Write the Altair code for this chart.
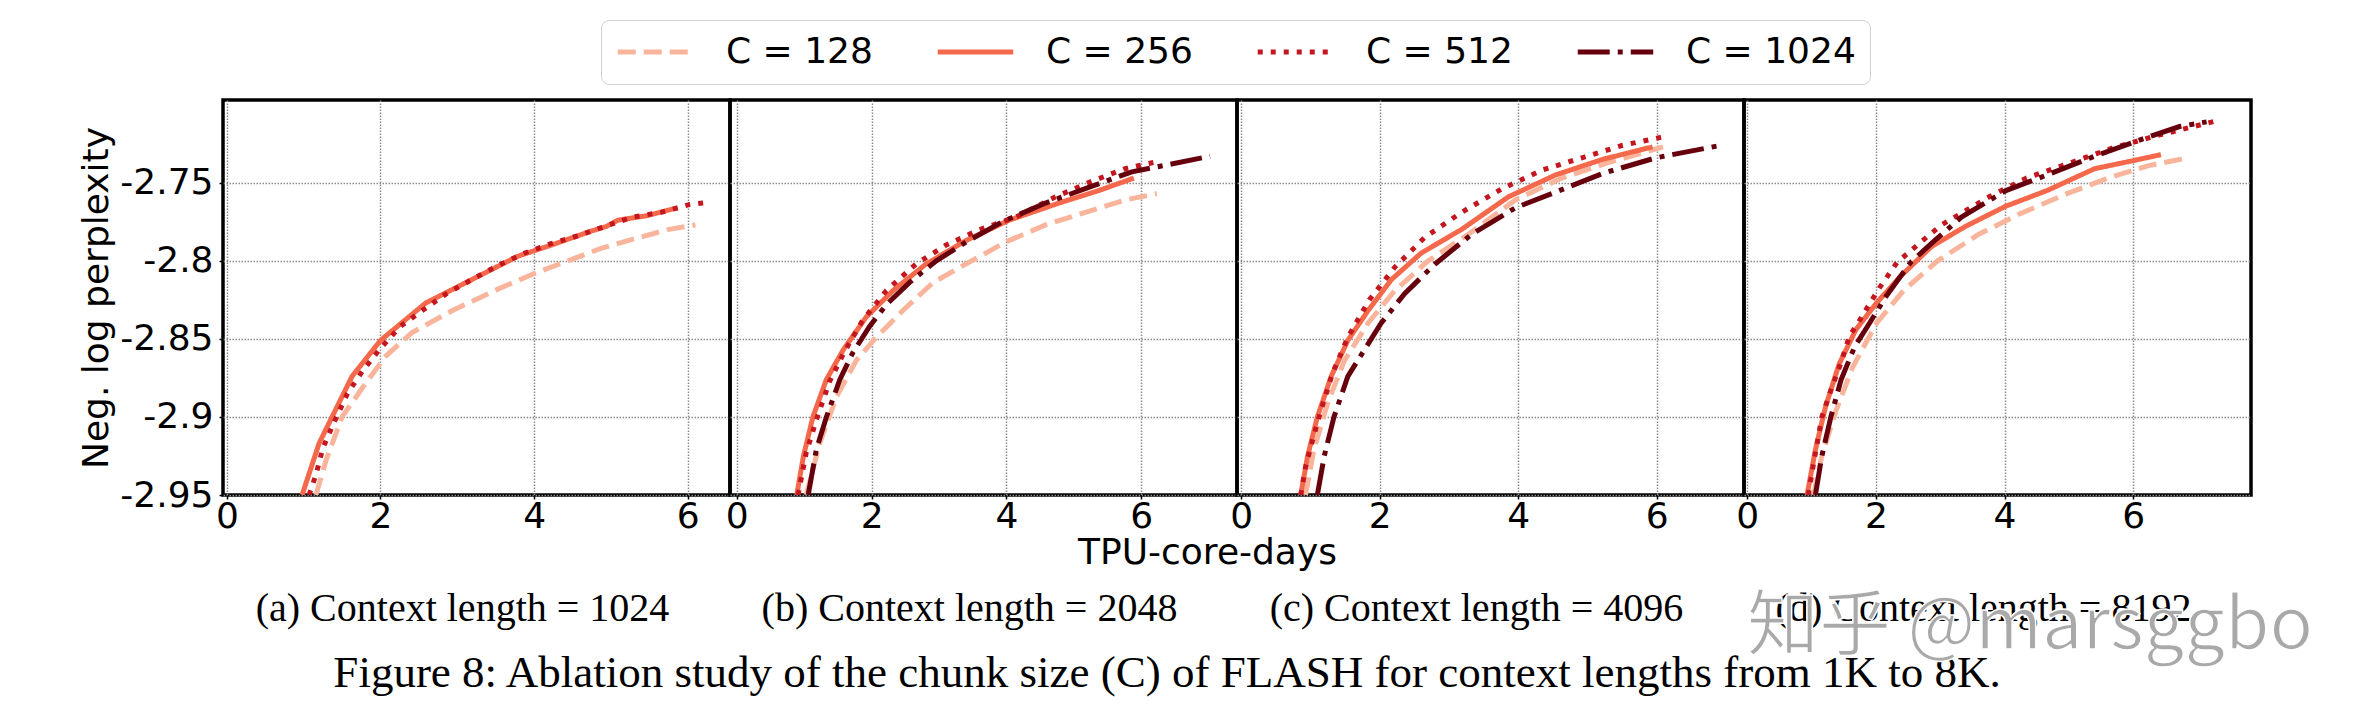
import altair as alt
import pandas as pd

runs = ["C = 128", "C = 256", "C = 512", "C = 1024"]
run_colors = ["#f8b59c", "#f4694b", "#c3161f", "#67000d"]
run_dashes = [[18, 8], [1, 0], [5, 8], [32, 8, 5, 8]]
y_ticks = [-2.95, -2.9, -2.85, -2.8, -2.75]
x_ticks = [0, 2, 4, 6]

# (a) context length 1024
a128_x = [1.16, 1.29, 1.50, 1.77, 2.07, 2.41, 2.93, 3.58, 4.01, 4.44, 4.87, 5.30, 5.74, 6.10]
a128_y = [-2.95, -2.928, -2.900, -2.881, -2.861, -2.846, -2.832, -2.817, -2.808, -2.800, -2.792, -2.786, -2.780, -2.777]
a256_x = [0.98, 1.20, 1.63, 2.00, 2.59, 3.19, 3.79, 4.22, 4.74, 4.94, 5.09, 5.48, 5.87]
a256_y = [-2.95, -2.917, -2.874, -2.851, -2.827, -2.812, -2.797, -2.790, -2.781, -2.778, -2.774, -2.771, -2.766]
a512_x = [1.07, 1.16, 1.25, 1.40, 1.57, 1.76, 2.00, 2.26, 2.54, 2.86, 3.19, 3.53, 3.88, 4.22, 4.57, 4.92, 5.28, 5.65, 6.02, 6.20]
a512_y = [-2.95, -2.937, -2.920, -2.903, -2.885, -2.871, -2.856, -2.842, -2.832, -2.821, -2.812, -2.803, -2.795, -2.789, -2.784, -2.778, -2.772, -2.769, -2.764, -2.763]

# (b) context length 2048
b128_x = [1.03, 1.23, 1.48, 1.77, 2.07, 2.46, 2.91, 3.40, 3.99, 4.58, 5.17, 5.76, 6.23]
b128_y = [-2.95, -2.917, -2.887, -2.864, -2.849, -2.832, -2.814, -2.802, -2.788, -2.777, -2.769, -2.761, -2.757]
b256_x = [0.89, 0.99, 1.13, 1.33, 1.58, 1.92, 2.32, 2.81, 3.40, 4.04, 4.78, 5.37, 5.89]
b256_y = [-2.95, -2.925, -2.900, -2.876, -2.857, -2.836, -2.819, -2.802, -2.787, -2.774, -2.763, -2.755, -2.747]
b512_x = [0.91, 1.03, 1.18, 1.38, 1.60, 1.87, 2.22, 2.66, 3.10, 3.60, 4.14, 4.73, 5.27, 5.76, 6.18]
b512_y = [-2.95, -2.923, -2.902, -2.877, -2.858, -2.838, -2.819, -2.802, -2.790, -2.780, -2.772, -2.759, -2.749, -2.741, -2.737]
b1024_x = [1.06, 1.18, 1.33, 1.53, 1.72, 1.97, 2.22, 2.56, 2.96, 3.40, 3.94, 4.58, 5.22, 5.86, 6.45, 7.02]
b1024_y = [-2.95, -2.921, -2.900, -2.876, -2.859, -2.842, -2.828, -2.814, -2.800, -2.788, -2.775, -2.763, -2.753, -2.743, -2.738, -2.733]

# (c) context length 4096
c128_x = [0.93, 1.05, 1.25, 1.49, 1.83, 2.22, 2.70, 3.28, 3.96, 4.63, 5.31, 6.09]
c128_y = [-2.95, -2.921, -2.891, -2.864, -2.840, -2.819, -2.800, -2.783, -2.761, -2.747, -2.737, -2.727]
c256_x = [0.86, 0.96, 1.10, 1.30, 1.54, 1.83, 2.17, 2.60, 3.18, 3.86, 4.54, 5.22, 5.94]
c256_y = [-2.95, -2.925, -2.900, -2.874, -2.851, -2.832, -2.812, -2.795, -2.780, -2.759, -2.745, -2.735, -2.727]
c512_x = [0.86, 0.93, 1.03, 1.15, 1.32, 1.54, 1.85, 2.22, 2.65, 3.18, 3.76, 4.34, 4.92, 5.51, 6.16]
c512_y = [-2.95, -2.932, -2.915, -2.896, -2.872, -2.849, -2.825, -2.804, -2.785, -2.769, -2.754, -2.742, -2.734, -2.726, -2.720]
c1024_x = [1.10, 1.20, 1.34, 1.54, 1.78, 2.02, 2.36, 2.80, 3.33, 3.96, 4.54, 5.22, 5.99, 6.93]
c1024_y = [-2.95, -2.925, -2.900, -2.874, -2.857, -2.840, -2.821, -2.802, -2.783, -2.766, -2.756, -2.744, -2.734, -2.726]

# (d) context length 8192
d128_x = [1.03, 1.16, 1.38, 1.64, 2.01, 2.43, 2.96, 3.60, 4.23, 4.97, 5.61, 6.24, 6.85]
d128_y = [-2.95, -2.925, -2.896, -2.868, -2.840, -2.819, -2.800, -2.783, -2.770, -2.757, -2.747, -2.739, -2.734]
d256_x = [0.93, 1.06, 1.22, 1.43, 1.69, 2.01, 2.38, 2.86, 3.39, 4.02, 4.66, 5.40, 5.98, 6.43]
d256_y = [-2.95, -2.921, -2.893, -2.866, -2.844, -2.827, -2.810, -2.791, -2.778, -2.765, -2.755, -2.741, -2.736, -2.732]
d512_x = [0.95, 1.03, 1.16, 1.30, 1.46, 1.59, 1.72, 1.88, 2.06, 2.33, 2.67, 3.02, 3.39, 3.76, 4.34, 4.97, 5.66, 6.35, 7.33]
d512_y = [-2.95, -2.930, -2.900, -2.883, -2.865, -2.848, -2.840, -2.829, -2.817, -2.801, -2.789, -2.777, -2.768, -2.759, -2.747, -2.738, -2.728, -2.720, -2.710]
d1024_x = [1.06, 1.16, 1.30, 1.46, 1.67, 1.90, 2.17, 2.54, 2.86, 3.33, 4.02, 4.66, 5.40, 6.14, 6.72, 7.14]
d1024_y = [-2.95, -2.925, -2.900, -2.876, -2.855, -2.840, -2.822, -2.801, -2.789, -2.772, -2.755, -2.745, -2.733, -2.722, -2.714, -2.711]

W, H = 507, 395
y_domain = [-2.95, -2.697]
serif = "Liberation Serif"
sans = "DejaVu Sans"

legend = alt.Legend(
    title=None, orient="none", direction="horizontal", columns=4,
    legendX=378, legendY=-80, symbolType="stroke", symbolSize=5700, clipHeight=36,
    symbolStrokeWidth=5, labelFont=sans, labelFontSize=36, labelColor="black", labelLimit=400,
    labelOffset=30, columnPadding=62, padding=14, fillColor="white",
    strokeColor="#d0d0d0", cornerRadius=8,
)


def frame(series):
    rows = []
    for name, xs, ys in series:
        for x, y in zip(xs, ys):
            rows.append({"run": name, "x": x, "y": y})
    return pd.DataFrame(rows)


def panel(df, x_domain, caption, first=False, x_title=None, extra=None):
    y_axis = alt.Axis(
        values=y_ticks, title="Neg. log perplexity" if first else None,
        labels=first, ticks=first, domain=False, labelPadding=6,
        labelExpr="replace(format(datum.value, '.2~f'), '\u2212', '-')",
    )
    x_axis = alt.Axis(values=x_ticks, domain=False, labelFlush=False, labelPadding=0, title=None)
    if x_title:
        x_axis = alt.Axis(
            values=x_ticks, domain=False, labelFlush=False, labelPadding=0,
            title=x_title, titleX=477, titleY=68, titleBaseline="alphabetic", titleAlign="center",
        )
    lines = alt.Chart(df).mark_line(clip=True, strokeWidth=5).encode(
        x=alt.X("x:Q", scale=alt.Scale(domain=x_domain, nice=False, zero=False), axis=x_axis),
        y=alt.Y("y:Q", scale=alt.Scale(domain=y_domain, nice=False, zero=False), axis=y_axis),
        color=alt.Color("run:N", scale=alt.Scale(domain=runs, range=run_colors), legend=legend),
        strokeDash=alt.StrokeDash("run:N", scale=alt.Scale(domain=runs, range=run_dashes), legend=legend),
    )
    cap = alt.Chart(pd.DataFrame({"t": [caption]})).mark_text(
        font=serif, fontSize=40, align="center", baseline="alphabetic", color="black"
    ).encode(text="t:N", x=alt.value(W / 2 - 14), y=alt.value(521))
    layers = [lines, cap]
    if extra is not None:
        layers += extra
    return alt.layer(*layers).properties(width=W, height=H)


fig_caption = alt.Chart(pd.DataFrame({"t": [
    "Figure 8: Ablation study of the chunk size (C) of FLASH for context lengths from 1K to 8K."
]})).mark_text(
    font=serif, fontSize=45, align="center", baseline="alphabetic", color="black"
).encode(text="t:N", x=alt.value(944), y=alt.value(587))

watermark = alt.Chart(pd.DataFrame({"t": ["知乎 @marsggbo"]})).mark_text(
    font="Noto Sans CJK SC", fontSize=72, align="left", baseline="alphabetic",
    color="#a9a9a9", stroke="white", strokeWidth=1.5,
).encode(text="t:N", x=alt.value(3), y=alt.value(549))

pa = panel(frame([(runs[0], a128_x, a128_y), (runs[1], a256_x, a256_y), (runs[2], a512_x, a512_y)]),
           [-0.05, 6.55], "(a) Context length = 1024", first=True, extra=[fig_caption])
pb = panel(frame([(runs[0], b128_x, b128_y), (runs[1], b256_x, b256_y), (runs[2], b512_x, b512_y),
                  (runs[3], b1024_x, b1024_y)]),
           [-0.10, 7.42], "(b) Context length = 2048", x_title="TPU-core-days")
pc = panel(frame([(runs[0], c128_x, c128_y), (runs[1], c256_x, c256_y), (runs[2], c512_x, c512_y),
                  (runs[3], c1024_x, c1024_y)]),
           [-0.06, 7.26], "(c) Context length = 4096")
pd_ = panel(frame([(runs[0], d128_x, d128_y), (runs[1], d256_x, d256_y), (runs[2], d512_x, d512_y),
                   (runs[3], d1024_x, d1024_y)]),
            [-0.05, 7.83], "(d) Context length = 8192", extra=[watermark])

chart = alt.hconcat(pa, pb, pc, pd_, spacing=0, bounds="flush").properties(
    padding={"left": 69, "top": 11, "right": 10, "bottom": 10}
).configure(
    background="white"
).configure_view(
    stroke="black", strokeWidth=3.5
).configure_axis(
    labelFont=sans, labelFontSize=36, labelColor="black",
    titleFont=sans, titleFontSize=36, titleFontWeight="normal", titleColor="black",
    tickSize=4, tickColor="black", tickWidth=1.5,
    gridColor="#8c8c8c", gridDash=[1.5, 1.5], gridWidth=1.5, gridOpacity=1,
)

chart.save("out.html", embed_options={"renderer": "svg", "actions": False})
